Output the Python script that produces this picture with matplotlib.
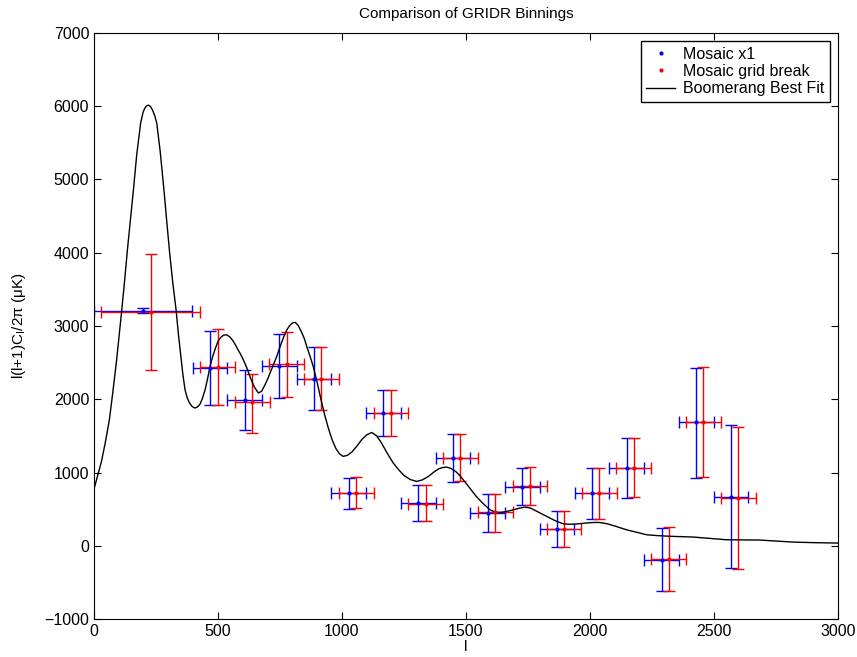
import numpy as np
import matplotlib
matplotlib.use("Agg")
import matplotlib.pyplot as plt
from matplotlib.lines import Line2D

plt.rcParams['font.family'] = ['Liberation Sans', 'DejaVu Sans']

# Mosaic x1 band powers
l_x1 = [198, 468, 607, 747, 887, 1027, 1167, 1308, 1448, 1587, 1728, 1867, 2008, 2148, 2289, 2429, 2569]
lerr_x1 = [199, 70, 70, 70, 70, 70, 70, 70, 70, 70, 70, 70, 70, 70, 70, 70, 70]
d_x1 = [3210, 2433, 1990, 2456, 2283, 719, 1819, 582, 1196, 446, 809, 227, 714, 1060, -191, 1683, 664]
dlo_x1 = [3180, 1924, 1580, 2019, 1855, 500, 1501, 337, 873, 187, 550, -18, 364, 655, -623, 924, -309]
dhi_x1 = [3240, 2937, 2400, 2896, 2715, 924, 2128, 828, 1524, 705, 1068, 473, 1060, 1469, 241, 2428, 1642]

# Mosaic grid break band powers
l_gb = [228, 499, 638, 777, 917, 1058, 1198, 1337, 1477, 1618, 1758, 1896, 2038, 2177, 2317, 2458, 2598]
lerr_gb = [200, 70, 70, 70, 70, 70, 70, 70, 70, 70, 70, 70, 70, 70, 70, 70, 70]
d_gb = [3188, 2446, 1960, 2479, 2283, 723, 1819, 577, 1196, 455, 818, 227, 714, 1065, -182, 1687, 655]
dlo_gb = [2400, 1924, 1540, 2037, 1855, 509, 1505, 332, 882, 187, 555, -18, 364, 660, -618, 933, -318]
dhi_gb = [3980, 2965, 2350, 2920, 2710, 932, 2133, 823, 1528, 705, 1073, 478, 1060, 1473, 250, 2442, 1628]

# Boomerang best fit spectrum
l_fit = [2, 15, 30, 45, 62, 76, 90, 101, 112, 124, 135, 147, 159, 172, 188, 198, 205, 212, 220,
         228, 237, 245, 253, 267, 282, 293, 305, 318, 331, 340, 350, 358, 367, 376, 385, 396,
         407, 417, 427, 437, 448, 458, 468, 479, 490, 500, 510, 522, 535, 548, 560, 570, 580,
         591, 602, 616, 630, 646, 663, 676, 690, 702, 715, 726, 737, 751, 765, 778, 790, 800,
         811, 823, 835, 848, 860, 872, 884, 900, 915, 930, 945, 960, 975, 990, 1005, 1022,
         1040, 1060, 1080, 1100, 1120, 1140, 1160, 1183, 1207, 1228, 1250, 1275, 1301, 1325,
         1350, 1370, 1390, 1406, 1422, 1440, 1460, 1475, 1489, 1515, 1540, 1568, 1597, 1617,
         1637, 1663, 1690, 1714, 1738, 1760, 1780, 1802, 1825, 1858, 1892, 1916, 1940, 1970,
         2000, 2020, 2040, 2070, 2100, 2125, 2148, 2190, 2229, 2275, 2320, 2370, 2417, 2485,
         2551, 2618, 2685, 2750, 2820, 2910, 3000]
d_fit = [800, 960, 1150, 1400, 1720, 2100, 2500, 2860, 3220, 3640, 4050, 4460, 4860, 5330,
         5770, 5920, 5975, 6005, 6015, 5995, 5940, 5870, 5770, 5380, 4860, 4440, 4000, 3580,
         3220, 2900, 2600, 2350, 2130, 2020, 1950, 1900, 1880, 1895, 1930, 2010, 2130, 2280,
         2448, 2590, 2700, 2790, 2840, 2875, 2880, 2850, 2800, 2745, 2680, 2615, 2540, 2430,
         2300, 2170, 2085, 2110, 2200, 2290, 2400, 2490, 2585, 2725, 2850, 2950, 3010, 3040,
         3050, 3010, 2930, 2830, 2700, 2580, 2448, 2230, 2000, 1790, 1607, 1450, 1330, 1255,
         1220, 1235, 1280, 1360, 1450, 1515, 1547, 1500, 1400, 1260, 1129, 1040, 960, 905,
         878, 900, 950, 1005, 1050, 1068, 1074, 1055, 1010, 960, 901, 790, 680, 580, 491,
         462, 455, 468, 490, 512, 528, 515, 480, 440, 400, 345, 300, 294, 296, 306, 315, 318,
         318, 300, 270, 243, 218, 182, 150, 138, 130, 124, 119, 100, 82, 80, 78, 65, 50, 42,
         37]

fig = plt.figure(figsize=(8.57, 6.57), dpi=100)
ax = fig.add_axes([0.1097, 0.0578, 0.868, 0.892])

def band(l, lerr, d, lo, hi, color):
    d = np.array(d)
    yerr = [d - np.array(lo), np.array(hi) - d]
    ax.errorbar(l, d, xerr=lerr, yerr=yerr, fmt='.', color=color, ecolor=color,
                markersize=4, elinewidth=1.0, capsize=4, capthick=1.0)

band(l_x1, lerr_x1, d_x1, dlo_x1, dhi_x1, 'blue')
band(l_gb, lerr_gb, d_gb, dlo_gb, dhi_gb, 'red')
ax.plot(l_fit, d_fit, color='black', linewidth=1.0)

ax.set_xlim(0, 3000)
ax.set_ylim(-1000, 7000)
ax.set_xticks(np.arange(0, 3001, 500))
ax.set_yticks(np.arange(-1000, 7001, 1000))
ax.tick_params(direction='in', top=True, right=True, length=5, labelsize=11.5)
ax.set_title('Comparison of GRIDR Binnings', fontsize=11, pad=11)
ax.set_xlabel('l', fontsize=11, labelpad=1)
ax.set_ylabel('l(l+1)C$_\\mathrm{l}$/2\u03c0 (\u03bcK)', fontsize=11, labelpad=12)

handles = [Line2D([], [], color='blue', marker='.', linestyle='none', markersize=4),
           Line2D([], [], color='red', marker='.', linestyle='none', markersize=4),
           Line2D([], [], color='black', linewidth=1.0)]
labels = ['Mosaic x1', 'Mosaic grid break', 'Boomerang Best Fit']
leg = ax.legend(handles, labels, loc='upper right', fontsize=11.5, fancybox=False,
                edgecolor='black', framealpha=1, borderaxespad=0.5, handlelength=1.8,
                handletextpad=0.5, labelspacing=0.15, borderpad=0.35)
leg.get_frame().set_linewidth(1.0)

fig.savefig('out.png', dpi=100)
